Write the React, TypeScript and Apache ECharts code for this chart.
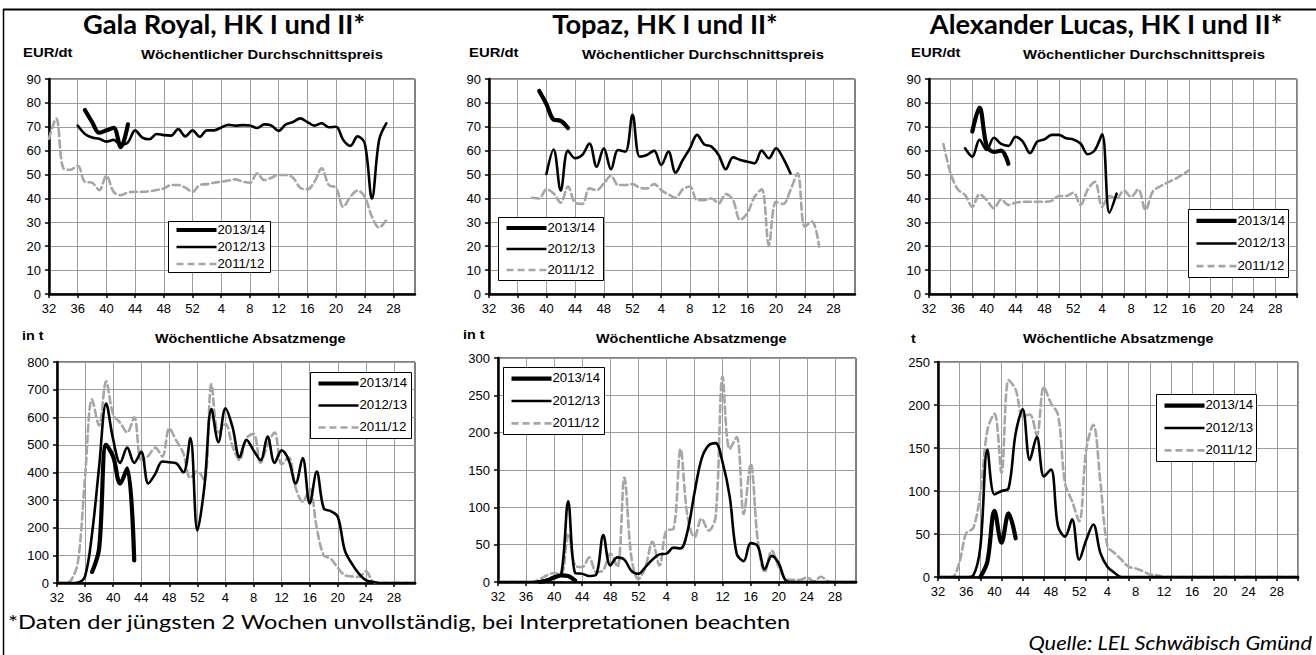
import React, { useEffect, useRef } from 'react';
import * as echarts from 'echarts';

const N = null;

// x categories: marketing weeks 32..52, then 1..31
const weekLabels = ['32','33','34','35','36','37','38','39','40','41','42','43','44','45','46','47','48','49','50','51','52',
  '1','2','3','4','5','6','7','8','9','10','11','12','13','14','15','16','17','18','19','20','21','22','23','24','25','26','27','28','29','30','31'];

const seasons = ['2013/14', '2012/13', '2011/12'];

// ---------- Gala Royal: price EUR/dt ----------
const galaPrice1314 = [N,N,N,N,N, 77,72,67.5,68.5,69.5,61.5,71, N,N,N,N,N,N,N,N,N,N,N,N,N,N,N,N,N,N,N,N,N,N,N,N,N,N,N,N,N,N,N,N,N,N,N,N,N,N,N,N];
const galaPrice1213 = [N,N,N,N, 70.5,67,65.5,65,63.8,64.5,62.5,63.5,68.5,65.5,64.8,67,66.5,66.3,69,66,68.5,65.8,68.5,68.5,69.7,70.8,70.5,70.7,70.5,69.5,71,70.5,68.3,71,72,73.5,72,70.5,71.5,69.8,70,64.5,62,66,63,40,64.5,71.4, N,N,N,N];
const galaPrice1112 = [65,73.5,52.6,52,53.7,47,46.6,43.5,49.5,42.8,41.4,42.5,42.8,42.8,43,43.5,44.2,45.6,45.6,44.5,42.8,45.6,46,46.6,47,47.5,48,47,46.6,50.5,47.7,48.7,49.8,49.8,48.7,44.5,43.8,47,52.6,45.6,44.5,36.5,40.7,43.3,40.7,32.4,27.8,31, N,N,N,N];

// ---------- Topaz: price EUR/dt ----------
const topazPrice1314 = [N,N,N,N,N,N,N, 85,79.5,73,72.5,69.5, N,N,N,N,N,N,N,N,N,N,N,N,N,N,N,N,N,N,N,N,N,N,N,N,N,N,N,N,N,N,N,N,N,N,N,N,N,N,N,N];
const topazPrice1213 = [N,N,N,N,N,N,N,N, 50.2,60.5,43.3,60,56.8,58.2,63,53.3,61,52.2,60.3,59.6,75,57.5,58.2,60,54,59.6,50.8,56.1,61,66.6,62.6,61.7,58.2,52.2,57.2,56.1,55.4,54.7,60,56.8,61,56.8,50.5, N,N,N,N,N,N,N,N,N];
const topazPrice1112 = [N,N,N,N,N,N, 40.3,40,43.8,42.1,38.2,45,38.2,37.7,44.2,43.5,46.3,49.5,45.6,45.6,46,44.5,44.2,46,43.5,41.7,40.3,43.8,45,39.3,39.3,40,38,41.8,39.3,31,33.8,40.7,43.8,20.5,38.6,37.7,43.5,50.5,28.2,30.3,19.8, N,N,N,N,N];

// ---------- Alexander Lucas: price EUR/dt ----------
const alexPrice1314 = [N,N,N,N,N,N, 68,78,62,59.5,60,54.5, N,N,N,N,N,N,N,N,N,N,N,N,N,N,N,N,N,N,N,N,N,N,N,N,N,N,N,N,N,N,N,N,N,N,N,N,N,N,N,N];
const alexPrice1213 = [N,N,N,N,N, 61,57.5,64.5,60.3,65.4,62.8,62,65.8,63.8,58.9,63.8,64.7,66.6,66.6,65.2,64.7,63,58.5,60.3,66.8,34,42, N,N,N,N,N,N,N,N,N,N,N,N,N,N,N,N,N,N,N,N,N,N,N,N,N];
const alexPrice1112 = [N,N, 62.8,50.5,43.8,41.4,36.5,41.7,39.3,35.9,39.6,37.3,38.2,38.6,38.6,38.6,38.6,39,41,41,42.4,37.3,43.8,47,36.5,41,40,43.3,40.7,43.8,35.2,42.8,45,46.6,48,49.8,51.6, N,N,N,N,N,N,N,N,N,N,N,N,N,N,N];

// ---------- Gala Royal: volume t ----------
const galaVol1314 = [N,N,N,N,N, 40,125,500,458,360,415,82, N,N,N,N,N,N,N,N,N,N,N,N,N,N,N,N,N,N,N,N,N,N,N,N,N,N,N,N,N,N,N,N,N,N,N,N,N,N,N,N];
const galaVol1213 = [0,0,0,2,25,180,420,650,520,435,490,435,475,360,395,440,437,433,400,525,190,350,630,510,632,565,455,518,480,445,530,435,480,445,360,452,288,403,270,260,240,118,70,34,10,4,0,0,0,0,0,0];
const galaVol1112 = [0,0,10,80,385,665,570,730,610,580,545,600,445,460,490,458,560,515,470,380,405,370,720,545,575,495,445,525,540,435,500,545,430,455,345,295,340,200,100,88,55,28,24,22,42,5,0,0,0,0,0,0];

// ---------- Topaz: volume t ----------
const topazVol1314 = [N,N,N,N,N,N, 0,2,6,9,8,2, N,N,N,N,N,N,N,N,N,N,N,N,N,N,N,N,N,N,N,N,N,N,N,N,N,N,N,N,N,N,N,N,N,N,N,N,N,N,N,N];
const topazVol1213 = [0,0,0,0,0,0,1,3,7,10,108,12,11,8,10,63,22,33,30,15,11,20,30,37,38,46,45,68,120,165,183,186,160,115,38,28,52,48,17,35,25,2,0,0,0,0,0,0,0,0,0,0];
const topazVol1112 = [0,0,0,0,0,0,4,9,12,10,65,22,20,33,13,16,38,20,140,33,4,20,54,22,69,71,178,87,60,85,69,87,275,178,194,91,158,56,13,42,20,4,3,3,6,1,7,1,0,0,0,0];

// ---------- Alexander Lucas: volume t ----------
const alexVol1314 = [N,N,N,N,N,N, 0,18,77,40,74,45, N,N,N,N,N,N,N,N,N,N,N,N,N,N,N,N,N,N,N,N,N,N,N,N,N,N,N,N,N,N,N,N,N,N,N,N,N,N,N,N];
const alexVol1213 = [0,0,0,0,0,2,35,148,96,100,103,167,195,136,163,117,125,59,47,67,20,43,61,28,12,5,0,0,0,0,0,0,0,0,0,0,0,0,0,0,0,0,0,0,0,0,0,0,0,0,0,0];
const alexVol1112 = [0,0,0,16,51,57,98,171,190,121,229,218,187,189,165,221,202,189,109,88,65,148,177,111,36,28,20,12,10,7,3,2,0,0,0,0,0,0,0,0,0,0,0,0,0,0,0,0,0,0,0,0];

const panelData = [
  [galaPrice1314, galaPrice1213, galaPrice1112],
  [topazPrice1314, topazPrice1213, topazPrice1112],
  [alexPrice1314, alexPrice1213, alexPrice1112],
  [galaVol1314, galaVol1213, galaVol1112],
  [topazVol1314, topazVol1213, topazVol1112],
  [alexVol1314, alexVol1213, alexVol1112],
];

const yMax = [90, 90, 90, 800, 300, 250];
const yStep = [10, 10, 10, 100, 50, 50];
// gridline spacing in weeks (Alexander Lucas charts use 3)
const gridEvery = [4, 4, 3, 4, 4, 3];

const grids = [
  { left: 49, top: 79, width: 366, height: 215 },
  { left: 489, top: 79, width: 366, height: 215 },
  { left: 929, top: 79, width: 368, height: 215 },
  { left: 57, top: 362, width: 358, height: 221 },
  { left: 498, top: 358, width: 358, height: 224 },
  { left: 938, top: 362, width: 360, height: 215 },
];

const legendBoxes = [
  { x: 168, y: 221, w: 102, h: 51 },
  { x: 498, y: 217, w: 105, h: 63 },
  { x: 1188, y: 209, w: 100, h: 68 },
  { x: 310, y: 372, w: 101, h: 66 },
  { x: 503, y: 367, w: 101, h: 67 },
  { x: 1156, y: 394, w: 100, h: 67 },
];

const seasonStyle = [
  { color: '#000000', width: 4.2, type: 'solid' },
  { color: '#000000', width: 2.6, type: 'solid' },
  { color: '#a6a6a6', width: 2.6, type: [7, 4] },
];

const AXIS_FONT = 'Liberation Sans, Arial, sans-serif';
const TITLE_FONT = 'Lato, Open Sans, sans-serif';

function buildOption() {
  const xAxis: any[] = [];
  const yAxis: any[] = [];
  const series: any[] = [];
  grids.forEach((g, k) => {
    xAxis.push({
      type: 'category', gridIndex: k, data: weekLabels, boundaryGap: false,
      axisLine: { show: true, onZero: false, lineStyle: { color: '#000', width: 2.5 } },
      axisTick: { show: true, interval: gridEvery[k] - 1, length: 4, lineStyle: { color: '#000', width: 1.5 } },
      axisLabel: { interval: 3, color: '#000', fontSize: 13, fontFamily: AXIS_FONT, margin: 8 },
      splitLine: { show: true, interval: gridEvery[k] - 1, lineStyle: { color: '#9c9c9c', width: 1 } },
    });
    yAxis.push({
      type: 'value', gridIndex: k, min: 0, max: yMax[k], interval: yStep[k],
      axisLine: { show: true, lineStyle: { color: '#000', width: 2.5 } },
      axisTick: { show: true, length: 4, lineStyle: { color: '#000', width: 1.5 } },
      axisLabel: { color: '#000', fontSize: 13, fontFamily: AXIS_FONT, margin: 8 },
      splitLine: { show: true, lineStyle: { color: '#9c9c9c', width: 1 } },
    });
    // draw 2011/12 first, 2013/14 last (on top)
    [2, 1, 0].forEach((s) => {
      const st = seasonStyle[s];
      series.push({
        type: 'line', name: seasons[s], xAxisIndex: k, yAxisIndex: k,
        data: panelData[k][s], smooth: 0.35, symbol: 'none', connectNulls: false,
        lineStyle: { color: st.color, width: st.width, type: st.type, cap: 'round', join: 'round' },
        itemStyle: { color: st.color }, z: 3 + (2 - s),
      });
    });
  });

  const graphic: any[] = [];
  const txt = (text: string, x: number, y: number, size: number, opts: any = {}) => ({
    type: 'text', x, y, z: 50, scaleX: opts.sx || 1,
    style: {
      text, fontSize: size, fontFamily: opts.family || AXIS_FONT, fontWeight: opts.weight || 'bold',
      fontStyle: opts.style || 'normal', fill: '#000', align: opts.align || 'left', verticalAlign: 'middle',
    },
  });

  // frame
  graphic.push({ type: 'line', z: 50, shape: { x1: 3.5, y1: 9, x2: 3.5, y2: 655 }, style: { stroke: '#000', lineWidth: 1.5 } });
  graphic.push({ type: 'line', z: 50, shape: { x1: 3, y1: 9.5, x2: 1316, y2: 9.5 }, style: { stroke: '#000', lineWidth: 2 } });

  // titles
  graphic.push(txt('Gala Royal, HK I und II*', 224, 24, 26, { family: TITLE_FONT, align: 'center', sx: 1.05 }));
  graphic.push(txt('Topaz, HK I und II*', 665, 24, 26, { family: TITLE_FONT, align: 'center', sx: 1.05 }));
  graphic.push(txt('Alexander Lucas, HK I und II*', 1106, 24, 26, { family: TITLE_FONT, align: 'center', sx: 1.05 }));

  // sub headings
  const P = { sx: 1.24 };
  const V = { sx: 1.2 };
  graphic.push(txt('EUR/dt', 23, 53, 12, P));
  graphic.push(txt('Wöchentlicher Durchschnittspreis', 141, 55, 12, P));
  graphic.push(txt('EUR/dt', 469, 53, 12, P));
  graphic.push(txt('Wöchentlicher Durchschnittspreis', 582, 55, 12, P));
  graphic.push(txt('EUR/dt', 911, 53, 12, P));
  graphic.push(txt('Wöchentlicher Durchschnittspreis', 1023, 55, 12, P));
  graphic.push(txt('in t', 22, 336, 12, V));
  graphic.push(txt('Wöchentliche Absatzmenge', 155, 339, 12, V));
  graphic.push(txt('in t', 463, 335, 12, V));
  graphic.push(txt('Wöchentliche Absatzmenge', 596, 339, 12, V));
  graphic.push(txt('t', 911, 339, 12, V));
  graphic.push(txt('Wöchentliche Absatzmenge', 1023, 339, 12, V));

  // footnotes
  graphic.push(txt('*Daten der jüngsten 2 Wochen unvollständig, bei Interpretationen beachten', 8, 621, 20, { family: TITLE_FONT, weight: 'normal', sx: 1.18 }));
  graphic.push(txt('Quelle: LEL Schwäbisch Gmünd', 1312, 643, 19, { family: TITLE_FONT, weight: 'normal', style: 'italic', align: 'right', sx: 1.15 }));

  // legends
  legendBoxes.forEach((b) => {
    const children: any[] = [
      { type: 'rect', z: 60, shape: { x: 0, y: 0, width: b.w, height: b.h }, style: { fill: '#fff', stroke: '#000', lineWidth: 1 } },
    ];
    [0, 1, 2].forEach((s) => {
      const ry = b.h * (1 / 6 + s / 3);
      const st = seasonStyle[s];
      children.push({
        type: 'line', z: 61, shape: { x1: 8, y1: ry, x2: 48, y2: ry },
        style: { stroke: st.color, lineWidth: st.width, lineDash: Array.isArray(st.type) ? st.type : null },
      });
      children.push({
        type: 'text', z: 61, x: 49, y: ry, scaleX: 1.1,
        style: { text: seasons[s], fontSize: 12, fontFamily: AXIS_FONT, fill: '#000', align: 'left', verticalAlign: 'middle' },
      });
    });
    graphic.push({ type: 'group', x: b.x + 0.5, y: b.y + 0.5, z: 60, children });
  });

  return {
    animation: false,
    backgroundColor: '#ffffff',
    grid: grids.map((g) => ({ ...g, show: true, borderColor: '#000', borderWidth: 1, backgroundColor: 'transparent', containLabel: false })),
    xAxis, yAxis, series, graphic,
  };
}

export default function App() {
  const ref = useRef<HTMLDivElement>(null);
  useEffect(() => {
    if (!ref.current) return;
    const chart = echarts.init(ref.current, null, { renderer: 'svg' });
    chart.setOption(buildOption());
    return () => chart.dispose();
  }, []);
  return (
    <div
      ref={ref}
      style={{ position: 'fixed', left: 0, top: 0, width: 1316, height: 655, background: '#fff' }}
    />
  );
}
